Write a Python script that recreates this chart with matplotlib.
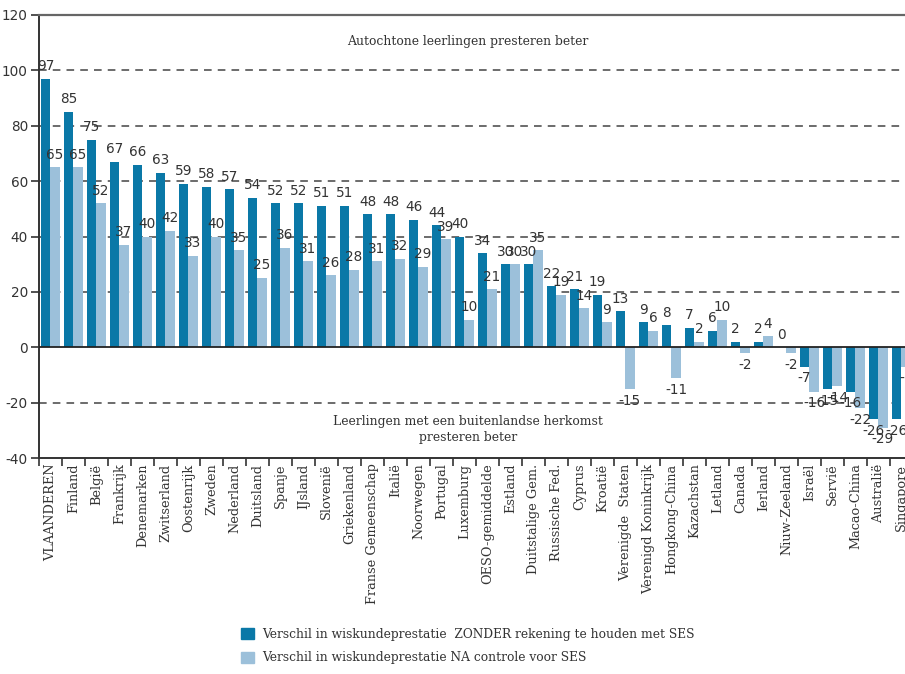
import numpy as np
import matplotlib
matplotlib.use("Agg")
import matplotlib.pyplot as plt
from matplotlib.patches import Patch

countries = [
    "VLAANDEREN", "Finland", "België", "Frankrijk", "Denemarken", "Zwitserland",
    "Oostenrijk", "Zweden", "Nederland", "Duitsland", "Spanje", "IJsland",
    "Slovenië", "Griekenland", "Franse Gemeenschap", "Italië", "Noorwegen",
    "Portugal", "Luxemburg", "OESO-gemiddelde", "Estland", "Duitstalige Gem.",
    "Russische Fed.", "Cyprus", "Kroatië", "Verenigde  Staten",
    "Verenigd Koninkrijk", "Hongkong-China", "Kazachstan", "Letland", "Canada",
    "Ierland", "Niuw-Zeeland", "Israël", "Servië", "Macao-China", "Australië",
    "Singapore",
]
zonder_ses = [97, 85, 75, 67, 66, 63, 59, 58, 57, 54, 52, 52, 51, 51, 48, 48,
              46, 44, 40, 34, 30, 30, 22, 21, 19, 13, 9, 8, 7, 6, 2, 2, 0,
              -7, -15, -16, -26, -26]
na_ses = [65, 65, 52, 37, 40, 42, 33, 40, 35, 25, 36, 31, 26, 28, 31, 32,
          29, 39, 10, 21, 30, 35, 19, 14, 9, -15, 6, -11, 2, 10, -2, 4, -2,
          -16, -14, -22, -29, -7]

DARK = "#0a78a7"
LIGHT = "#9cc0da"
TXT = "#333333"
SERIF = "DejaVu Serif"

plt.rcParams["axes.unicode_minus"] = False

fig = plt.figure(figsize=(9.05, 6.74), dpi=100)
ax = fig.add_axes([39 / 905, 1 - 458 / 674, 874 / 905, 443 / 674])

x = np.arange(len(countries))
w = 0.41
ax.bar(x + 0.285, zonder_ses, width=w, color=DARK, zorder=3)
ax.bar(x + 0.695, na_ses, width=w, color=LIGHT, zorder=3)

# value labels above (or below) each bar
for xs, vals in [(x + 0.285, zonder_ses), (x + 0.695, na_ses)]:
    for xi, v in zip(xs, vals):
        off, va = (4, "bottom") if v >= 0 else (-3.5, "top")
        ax.annotate(f"{v}", (xi, v), xytext=(0, off), textcoords="offset points",
                    ha="center", va=va, fontsize=9.8, color=TXT, zorder=4)

ax.set_xlim(0, len(countries))
ax.set_ylim(-40, 120)

# dashed grid + solid zero line
for g in [100, 80, 60, 40, 20, -20]:
    ax.axhline(g, color="#444444", lw=1.1, ls=(0, (5, 4)), zorder=1)
ax.axhline(0, color="#222222", lw=1.3, zorder=4)

ax.set_yticks(range(-40, 121, 20))
ax.set_yticklabels([str(t) for t in range(-40, 121, 20)], fontsize=9.8, color=TXT)
ax.set_xticks(x + 0.5)
ax.set_xticklabels(countries, rotation=90, family=SERIF, fontsize=9.3, color=TXT)
ax.set_xticks(np.arange(len(countries) + 1), minor=True)
ax.tick_params(axis="x", which="major", length=0, pad=4)
ax.tick_params(axis="x", which="minor", length=6, width=1.2, color="#333333")
ax.tick_params(axis="y", length=6, width=1.2, color="#333333", pad=2)

for s in ["left", "bottom"]:
    ax.spines[s].set_color("#333333")
    ax.spines[s].set_linewidth(1.4)
ax.spines["top"].set_color("#666666")
ax.spines["top"].set_linewidth(1.6)
ax.spines["right"].set_visible(False)

ax.text(18.65, 110.3, "Autochtone leerlingen presteren beter", ha="center",
        va="center", family=SERIF, fontsize=8.9, color=TXT)
ax.text(18.65, -29.8, "Leerlingen met een buitenlandse herkomst\npresteren beter",
        ha="center", va="center", family=SERIF, fontsize=8.9, color=TXT,
        linespacing=1.3)

handles = [Patch(color=DARK), Patch(color=LIGHT)]
labels = ["Verschil in wiskundeprestatie  ZONDER rekening te houden met SES",
          "Verschil in wiskundeprestatie NA controle voor SES"]
fig.legend(handles, labels, loc="upper left", bbox_to_anchor=(241 / 905, 1 - 628 / 674),
           frameon=False, handlelength=1.05, handleheight=1.05, handletextpad=0.65,
           labelspacing=0.85, borderpad=0, borderaxespad=0,
           prop={"family": SERIF, "size": 8.8}, labelcolor=TXT)

fig.savefig("out.png", dpi=100, facecolor="white")
